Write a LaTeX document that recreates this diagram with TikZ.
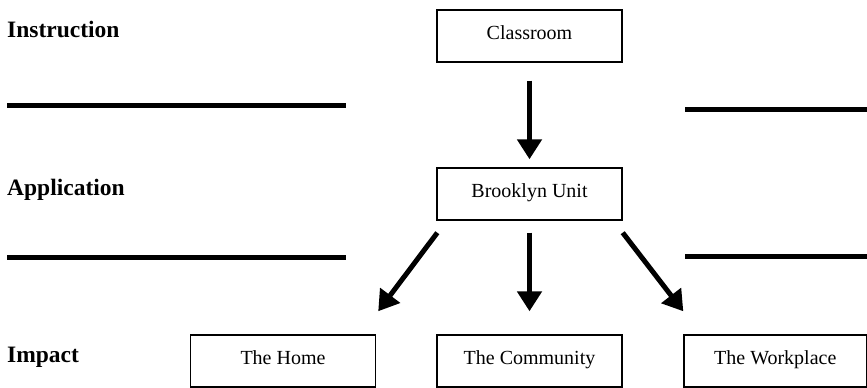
\documentclass[tikz,border=0pt]{standalone}
\usepackage{fontspec}
\setmainfont{Liberation Serif}
\usetikzlibrary{arrows.meta}
\tikzset{
  box/.style={draw, line width=1.4pt, minimum width=185pt, minimum height=52pt, inner sep=0pt,
    text height=14pt, text depth=8pt, font=\fontsize{20}{24}\selectfont},
  lvl/.style={anchor=base west, inner sep=0pt, font=\fontsize{23.5}{28}\selectfont\bfseries},
  arr/.style={line width=5pt, -{Triangle[width=24pt,length=20pt]}},
  rule/.style={line width=5pt}
}
\begin{document}
\begin{tikzpicture}[x=1pt,y=-1pt]
\useasboundingbox (0,0) rectangle (867,388);
\node[lvl] (ins) at (7,37) {Instruction};
\node[lvl] (app) at (7,195) {Application};
\node[lvl] (imp) at (7,362) {Impact};
\node[box] (cl) at (529.5,36) {Classroom};
\node[box] (bu) at (529.5,194) {Brooklyn Unit};
\node[box] (home) at (283,361) {The Home};
\node[box] (com) at (529.5,361) {The Community};
\node[box, minimum width=182.5pt] (wp) at (775.25,361) {The Workplace};
\draw[rule] (7,105) -- (346,105);
\draw[rule] (7,257) -- (346,257);
\draw[rule] (685,109) -- (867,109);
\draw[rule] (685,256) -- (867,256);
\draw[arr, shorten <=18pt, shorten >=8pt] (cl.south) -- (bu.north);
\draw[arr, shorten <=12pt, shorten >=23pt] (bu.south) -- (com.north);
\draw[arr] ([xshift=1pt,yshift=-12pt]bu.south west) -- ([xshift=2pt,yshift=23pt]home.north east);
\draw[arr] ([yshift=-12pt]bu.south east) -- ([yshift=23pt]wp.north west);
\end{tikzpicture}
\end{document}
